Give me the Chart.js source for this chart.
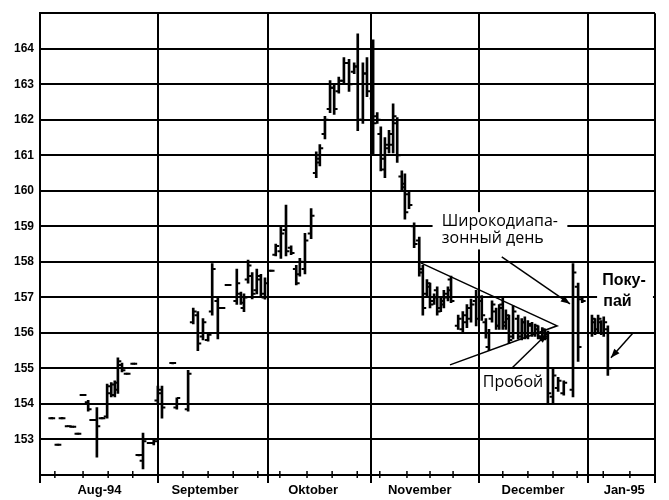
<!DOCTYPE html>
<html lang="ru">
<head>
<meta charset="UTF-8">
<title>OHLC Aug-94 – Jan-95</title>
<style>
    body { margin: 0; background: #fff; }
    canvas { display: block; }
</style>
</head>
<body>
<canvas id="chart" width="669" height="500"></canvas>
<script src="https://cdn.jsdelivr.net/npm/chart.js"></script>
<script>
// trading day position (0 = left edge of chart) and prices
const days = [
    2.3, 3.5, 4.3, 5.5, 6.4, 7.4, 8.4, 9.4, 10.3, 11.1, 12.1, 13.1, 13.9, 14.6, 15.2, 16.0, 17.0, 18.3, 19.3, 20.1, 21.5, 22.2,
    23.0, 23.8, 25.9, 26.7, 28.9, 29.9, 30.8, 31.8, 32.8, 33.6, 34.7, 35.5, 36.7, 38.4, 39.2, 39.8, 40.6, 41.4, 42.3, 43.1, 43.9,
    45.1, 46.0, 47.0, 48.0, 49.0, 50.0, 50.7, 51.7, 52.9, 53.9, 54.6, 55.6, 56.6, 57.4, 58.3, 59.3, 60.3, 61.3, 62.0, 63.0, 63.8, 65.0,
    65.8, 66.5, 67.3, 68.1, 68.9, 69.7, 70.6, 71.2, 72.0, 73.0, 74.0, 74.7, 75.5, 76.1, 76.9, 77.5, 78.2, 78.8, 79.6, 80.2,
    81.6, 82.5, 83.3, 84.1, 85.1,
    86.2, 87.0, 87.6, 88.2, 89.0, 89.6, 90.3, 90.9, 91.5, 92.3, 93.3, 94.0, 94.6, 95.2, 96.0, 96.6, 97.2, 98.0, 98.5,
    99.1, 100.1, 101.1, 102.2, 104.0, 105.0, 105.8,
    107.7, 108.3, 108.9, 109.5, 110.0, 110.8
];
const highs = [
    153.62, 152.87, 153.62, 153.39, 153.38, 153.18, 154.27, 154.1, 153.57, 153.9, 153.62, 154.56, 154.6, 154.65, 155.3, 155.15, 154.87, 155.15, 152.58, 153.18, 152.92, 153.0,
    154.5, 154.5, 155.17, 154.17, 154.95, 156.7, 156.6, 156.4, 155.97, 157.95, 157.0, 156.72, 157.37, 157.8, 157.15, 157.1, 158.05, 157.7, 157.8, 157.65, 157.55,
    157.77, 158.5, 159.0, 159.6, 158.45, 157.9, 158.1, 158.8, 159.5, 161.1, 161.3, 162.1, 163.1, 163.0, 163.2, 163.75, 163.7, 163.6, 164.42, 163.6, 163.75, 164.25,
    162.2, 161.8, 161.5, 161.7, 162.45, 162.06, 160.56, 160.48, 160.0, 159.1, 158.7, 157.9, 157.5, 157.4, 157.1, 157.3, 157.0, 157.2, 157.3, 157.6,
    156.5, 156.6, 156.8, 156.95, 157.2,
    157.05, 156.4, 156.1, 156.9, 156.7, 156.8, 157.0, 156.65, 156.5, 156.76, 156.5, 156.4, 156.45, 156.35, 156.3, 156.25, 156.2, 156.15, 156.1,
    156.05, 155.0, 154.75, 154.65, 157.95, 157.4, 157.0,
    156.5, 156.4, 156.5, 156.35, 156.45, 156.2
];
const lows = [
    153.58, 152.83, 153.58, 153.36, 153.34, 153.14, 154.23, 153.8, 153.53, 152.5, 153.58, 153.6, 154.2, 154.2, 154.3, 154.9, 154.83, 155.11, 152.54, 152.17, 152.88, 152.85,
    154.0, 153.6, 155.13, 153.85, 153.8, 156.25, 155.5, 155.8, 155.77, 156.5, 155.83, 156.68, 157.33, 156.8, 156.8, 156.6, 157.4, 156.96, 157.1, 157.0, 156.95,
    157.73, 158.17, 158.1, 158.17, 158.2, 157.35, 157.6, 157.66, 158.65, 160.37, 160.7, 161.46, 162.2, 162.15, 162.75, 163.0, 162.8, 163.3, 161.69, 161.9, 162.65, 161.0,
    161.9, 160.56, 160.37, 161.07, 161.07, 160.8, 160.0, 159.2, 159.5, 158.4, 157.6, 156.5, 157.0, 156.7, 156.8, 156.5, 156.6, 156.7, 156.9, 156.85,
    156.1, 156.0, 156.15, 156.3, 156.2,
    156.35, 155.85, 155.5, 156.3, 156.1, 156.1, 156.1, 156.1, 155.7, 155.83, 155.83, 155.8, 155.83, 155.83, 155.9, 155.9, 155.83, 155.8, 155.8,
    154.0, 154.0, 154.35, 154.25, 154.2, 155.2, 156.85,
    155.9, 155.95, 156.0, 155.95, 155.9, 154.8
];
const opens = [
    153.6, 152.85, 153.6, 153.37, 153.36, 153.16, 154.25, 154.05, 153.55, 153.55, 153.6, 153.65, 154.3, 154.25, 154.4, 155.1, 154.85, 155.13, 152.56, 152.4, 152.9, 152.9,
    154.1, 154.3, 155.15, 153.9, 153.85, 156.3, 156.5, 155.9, 155.8, 156.6, 156.9, 156.7, 157.35, 156.9, 157.1, 156.7, 157.5, 157.6, 157.2, 157.5, 157.0,
    157.75, 158.2, 158.3, 158.9, 158.4, 157.8, 157.65, 157.8, 158.8, 160.5, 160.8, 161.6, 162.3, 162.9, 162.8, 163.1, 163.6, 163.35, 163.5, 162.0, 163.3, 162.6,
    162.1, 161.6, 160.6, 161.2, 161.3, 161.9, 160.4, 160.2, 159.9, 159.0, 158.6, 157.7, 157.1, 157.3, 156.9, 157.2, 156.7, 156.8, 157.0, 157.5,
    156.2, 156.1, 156.3, 156.4, 156.9,
    156.9, 156.3, 155.6, 156.4, 156.6, 156.2, 156.8, 156.2, 156.4, 155.9, 156.4, 155.9, 156.3, 155.9, 156.2, 156.0, 156.1, 155.9, 156.0,
    155.9, 154.2, 154.45, 154.3, 154.4, 157.3, 156.95,
    156.0, 156.3, 156.1, 156.3, 156.0, 156.1
];
const closes = [
    153.6, 152.85, 153.6, 153.37, 153.36, 153.16, 154.25, 153.85, 153.55, 153.37, 153.6, 154.5, 154.55, 154.6, 155.2, 154.95, 154.85, 155.13, 152.56, 152.95, 152.9, 152.95,
    154.4, 153.9, 155.15, 154.17, 154.85, 156.6, 155.7, 156.3, 155.95, 157.8, 156.0, 156.7, 157.35, 157.4, 156.85, 157.0, 157.9, 157.1, 157.6, 157.1, 157.4,
    157.75, 158.45, 158.8, 158.3, 158.25, 157.4, 158.0, 158.6, 159.3, 160.9, 161.2, 162.0, 162.9, 162.3, 163.1, 163.6, 163.0, 163.5, 162.0, 163.3, 162.8, 161.9,
    162.0, 160.9, 161.3, 161.6, 162.1, 161.0, 160.1, 159.4, 159.6, 158.5, 157.8, 156.7, 157.4, 156.8, 157.0, 156.6, 156.9, 157.1, 157.2, 156.9,
    156.4, 156.5, 156.7, 156.8, 156.4,
    156.5, 156.0, 156.0, 156.8, 156.2, 156.7, 156.3, 156.5, 155.8, 156.6, 156.0, 156.3, 155.9, 156.25, 156.0, 156.2, 155.9, 156.1, 155.85,
    154.3, 154.8, 154.65, 154.6, 157.7, 155.6, 156.9,
    156.4, 156.0, 156.4, 156.0, 156.3, 155.0
];

const monthBounds = [0, 23.0, 44.5, 64.6, 85.7, 106.9, 120];
const monthLabels = ['Aug-94', 'September', 'Oktober', 'November', 'December', 'Jan-95'];
const monthCenters = [11.6, 32.2, 53.3, 74.1, 96.2, 114.0];
const weekTicks = [2.9, 8.4, 13.3, 18.1, 27.9, 32.8, 37.7, 42.5, 46.8, 52.1, 57.0, 61.9, 66.3, 71.6, 76.1, 80.6, 90.3, 95.2, 100.1, 104.8, 109.9, 115.1];

const bars = days.map((d, i) => ({ x: d, y: [lows[i], highs[i]] }));
const openTicks = days.map((d, i) => ({ x: d - 0.35, y: opens[i] }));
const closeTicks = days.map((d, i) => ({ x: d + 0.35, y: closes[i] }));

function arrow(ctx, x1, y1, x2, y2) {
    ctx.beginPath();
    ctx.moveTo(x1, y1);
    ctx.lineTo(x2, y2);
    ctx.stroke();
    const a = Math.atan2(y2 - y1, x2 - x1);
    ctx.beginPath();
    ctx.moveTo(x2, y2);
    ctx.lineTo(x2 - 9 * Math.cos(a) + 3.5 * Math.sin(a), y2 - 9 * Math.sin(a) - 3.5 * Math.cos(a));
    ctx.lineTo(x2 - 9 * Math.cos(a) - 3.5 * Math.sin(a), y2 - 9 * Math.sin(a) + 3.5 * Math.cos(a));
    ctx.closePath();
    ctx.fill();
}

const notes = {
    id: 'notes',
    beforeDatasetsDraw(chart) {
        const ctx = chart.ctx;
        const X = v => chart.scales.x.getPixelForValue(v);
        const Y = v => chart.scales.y.getPixelForValue(v);
        ctx.save();
        // white boxes behind the text
        ctx.fillStyle = '#fff';
        ctx.fillRect(X(76.6), Y(159.4), X(102.9) - X(76.6), Y(158.35) - Y(159.4));
        ctx.fillRect(X(108.7), Y(157.89), X(119.6) - X(108.7), Y(156.62) - Y(157.89));

        ctx.strokeStyle = '#000';
        ctx.fillStyle = '#000';
        ctx.lineWidth = 1.5;
        // triangle
        ctx.beginPath();
        ctx.moveTo(X(74.3), Y(157.97));
        ctx.lineTo(X(100.9), Y(156.2));
        ctx.lineTo(X(80.0), Y(155.1));
        ctx.stroke();
        // arrows
        arrow(ctx, X(90.1), Y(158.14), X(103.4), Y(156.82));
        arrow(ctx, X(92.1), Y(155.01), X(98.9), Y(155.97));
        arrow(ctx, X(115.7), Y(156.0), X(111.4), Y(155.3));

        ctx.textBaseline = 'alphabetic';
        ctx.textAlign = 'left';
        ctx.font = '16px "Open Sans"';
        ctx.fillText('Широкодиапа-', X(78.4), Y(159.0));
        ctx.fillText('зонный день', X(78.4), Y(158.53));
        ctx.fillText('Пробой', X(86.4), Y(154.48));
        ctx.font = 'bold 16px "Liberation Sans"';
        ctx.fillText('Поку-', X(109.7), Y(157.35));
        ctx.fillText('пай', X(109.9), Y(156.76));
        ctx.restore();
    },
    afterDraw(chart) {
        const ctx = chart.ctx;
        const b = chart.chartArea.bottom;
        ctx.save();
        ctx.strokeStyle = '#000';
        ctx.lineWidth = 1.5;
        weekTicks.forEach(w => {
            const px = chart.scales.x.getPixelForValue(w);
            ctx.beginPath();
            ctx.moveTo(px, b - 4);
            ctx.lineTo(px, b + 3);
            ctx.stroke();
        });
        ctx.restore();
    }
};

new Chart(document.getElementById('chart').getContext('2d'), {
    type: 'bar',
    data: {
        datasets: [
            {
                data: bars,
                backgroundColor: '#000',
                borderWidth: 0,
                barThickness: 2
            },
            {
                type: 'scatter',
                data: openTicks,
                pointStyle: 'line',
                pointRadius: 1.6,
                pointBorderWidth: 2,
                pointBorderColor: '#000'
            },
            {
                type: 'scatter',
                data: closeTicks,
                pointStyle: 'line',
                pointRadius: 1.6,
                pointBorderWidth: 2,
                pointBorderColor: '#000'
            }
        ]
    },
    options: {
        responsive: false,
        animation: false,
        devicePixelRatio: 1,
        layout: { padding: { top: 12, right: 14, left: 0, bottom: 0 } },
        plugins: {
            legend: { display: false },
            tooltip: { enabled: false }
        },
        scales: {
            x: {
                type: 'linear',
                min: 0,
                max: 120,
                offset: false,
                afterBuildTicks: scale => {
                    scale.ticks = monthBounds.concat(monthCenters).sort((a, b) => a - b).map(v => ({ value: v }));
                },
                afterFit: scale => { scale.height = 25; },
                grid: {
                    offset: false,
                    color: c => (c.tick && monthBounds.includes(c.tick.value)) ? '#000' : 'rgba(0,0,0,0)',
                    lineWidth: 2,
                    tickLength: 8
                },
                border: { color: '#000', width: 2 },
                ticks: {
                    autoSkip: false,
                    maxRotation: 0,
                    padding: 0,
                    color: '#000',
                    font: { family: 'Liberation Sans', size: 13, weight: 'bold' },
                    callback: v => {
                        const i = monthCenters.indexOf(v);
                        return i >= 0 ? monthLabels[i] : '';
                    }
                }
            },
            y: {
                min: 152,
                max: 165,
                afterFit: scale => { scale.width = 40; },
                grid: { color: '#000', lineWidth: 2, drawTicks: false },
                border: { color: '#000', width: 2 },
                ticks: {
                    stepSize: 1,
                    padding: 6,
                    color: '#000',
                    font: { family: 'Liberation Sans', size: 12, weight: 'bold' },
                    callback: v => (v > 152 && v < 165) ? v : ''
                }
            }
        }
    },
    plugins: [notes]
});
</script>
</body>
</html>
